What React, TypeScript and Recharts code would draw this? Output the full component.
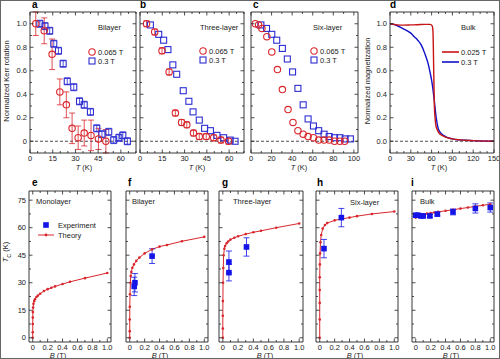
import React from 'react'
import { ComposedChart, Scatter, Line, XAxis, YAxis, ReferenceLine, ErrorBar } from 'recharts'

const FONT = '"Liberation Sans", Arial, Helvetica, sans-serif'
const RED = '#d8262c'
const BLUE = '#2d2dd2'
const EXP_BLUE = '#1414e6'
const INK = '#222'

// ---------- a: bilayer, normalized Kerr rotation vs T ----------
const biT065 = [3.8, 9.4, 14.6, 19.7, 24, 27.8, 31.8, 35.8, 40.3, 45.2, 50.1]
const biK065 = [1.0, 0.94, 0.74, 0.42, 0.31, 0.11, 0.03, 0.07, 0.05, 0.02, 0.0]
const biE065 = [0.1, 0.11, 0.13, 0.11, 0.11, 0.13, 0.1, 0.11, 0.13, 0.09, 0.1]
const biT03 = [6.5, 9.9, 13, 15.7, 18.8, 21.9, 24.6, 28.9, 32.7, 35.8, 39.9, 44.1, 47.5, 52, 55.3, 58.7, 61.3, 64.3]
const biK03 = [1.0, 0.98, 0.94, 0.83, 0.77, 0.66, 0.51, 0.46, 0.34, 0.31, 0.25, 0.11, 0.06, 0.08, 0.01, 0.03, 0.05, 0.0]

// ---------- b: three-layer ----------
const triT065 = [4.4, 9.9, 14.8, 19.6, 23.8, 28, 31.5, 36, 39.9, 44.6, 49.6, 54.5, 59.6]
const triK065 = [1.0, 0.93, 0.77, 0.59, 0.24, 0.16, 0.14, 0.07, 0.04, 0.04, 0.03, 0.01, 0.0]
const triT03 = [7, 12.6, 15.9, 18.8, 22.1, 24.7, 29.1, 32.9, 35.7, 39.9, 43.5, 47.4, 51.8, 56.3, 60.7, 64]
const triK03 = [0.99, 0.91, 0.86, 0.78, 0.65, 0.57, 0.43, 0.34, 0.25, 0.18, 0.11, 0.09, 0.05, 0.03, 0.01, 0.0]

// ---------- c: six-layer ----------
const sixT065 = [4.2, 7.4, 10.6, 15.4, 20.2, 25.7, 30.5, 36, 40.8, 45.6, 50.7, 55.5, 60.7, 65.8, 71, 76, 81.2, 86.4, 91]
const sixK065 = [1.0, 0.99, 0.96, 0.89, 0.76, 0.61, 0.44, 0.27, 0.16, 0.09, 0.06, 0.04, 0.03, 0.01, 0.01, 0.01, 0.0, 0.0, 0.0]
const sixT03 = [9.6, 15.1, 20.2, 25, 30.5, 35.3, 40.4, 45.6, 50.7, 55.5, 60.7, 65.8, 71, 76, 81.2, 86.4, 91.5, 96.6]
const sixK03 = [0.99, 0.96, 0.91, 0.86, 0.79, 0.7, 0.59, 0.45, 0.31, 0.19, 0.13, 0.09, 0.06, 0.04, 0.03, 0.03, 0.02, 0.02]

// ---------- d: bulk magnetization curves ----------
const bulkT025 = [0, 5, 10, 20, 30, 40, 50, 58, 61, 62, 62.5, 63, 63.5, 64, 65, 66, 68, 70, 75, 80, 90, 100, 120, 150]
const bulkM025 = [1.0, 0.995, 0.99, 0.988, 0.99, 0.992, 0.995, 0.995, 0.98, 0.93, 0.8, 0.62, 0.45, 0.3, 0.2, 0.14, 0.1, 0.075, 0.05, 0.035, 0.02, 0.012, 0.005, 0.0]
const bulkT03 = [0, 5, 10, 15, 20, 25, 30, 35, 40, 45, 50, 55, 58, 60, 62, 64, 66, 68, 70, 75, 80, 90, 100, 120, 150]
const bulkM03 = [1.0, 0.995, 0.985, 0.97, 0.955, 0.94, 0.92, 0.89, 0.86, 0.82, 0.75, 0.66, 0.58, 0.52, 0.44, 0.34, 0.23, 0.15, 0.1, 0.06, 0.04, 0.02, 0.012, 0.005, 0.0]

// ---------- e–i: Tc vs B, theory ----------
const monoB = [0, 0.0001, 0.0005, 0.001, 0.002, 0.005, 0.01, 0.02, 0.03, 0.05, 0.07, 0.1, 0.15, 0.2, 0.25, 0.3, 0.4, 0.5, 0.7, 1.0]
const monoTc = [0, 3, 7.5, 11, 14, 16.5, 18.5, 20, 21, 22.2, 23, 24, 25.5, 26.5, 27.3, 28, 29.3, 30.5, 32.5, 35.3]
const biB = [0, 0, 0, 0.001, 0.004, 0.009, 0.013, 0.022, 0.035, 0.057, 0.088, 0.13, 0.2, 0.3, 0.4, 0.5, 0.7, 1.0]
const biTc = [0, 3.6, 10, 16.9, 23.7, 30, 33.7, 35.9, 38.2, 40, 41.9, 43.7, 46, 48.2, 49.7, 50.6, 52.6, 55]
const triB = [0, 0, 0, 0.001, 0.003, 0.006, 0.01, 0.02, 0.03, 0.05, 0.07, 0.1, 0.15, 0.2, 0.3, 0.4, 0.5, 0.7, 1.0]
const triTc = [0, 5, 12, 20, 30, 38, 45, 48.5, 50, 51.5, 52.5, 53.5, 54.5, 55.3, 56.5, 57.5, 58.3, 60, 62.3]
const hexB = [0, 0, 0, 0, 0, 0.002, 0.005, 0.01, 0.02, 0.04, 0.07, 0.1, 0.2, 0.3, 0.4, 0.5, 0.7, 1.0]
const hexTc = [0, 10, 19, 26, 33, 40, 46, 52, 56, 59.5, 61.5, 62.5, 64, 64.8, 65.5, 66.3, 67.5, 68.8]
const bulkB = [0, 0.005, 0.01, 0.02, 0.03, 0.05, 0.07, 0.1, 0.15, 0.2, 0.25, 0.3, 0.4, 0.5, 0.6, 0.7, 0.8, 0.9, 1.0]
const bulkTc = [65.5, 66, 66.2, 66.4, 66.6, 66.8, 67, 67.3, 67.7, 68, 68.3, 68.6, 69.2, 69.8, 70.4, 71, 71.6, 72.2, 72.8]

// ---------- e–i: Tc vs B, experiment ----------
const biExpB = [0.06, 0.07]
const biExpTc = [28, 30]
const biExpErr = [5, 5]
const biExpB2 = [0.3]
const biExpTc2 = [44.5]
const biExpErr2 = [4]
const triExpB = [0.08, 0.08, 0.31]
const triExpTc = [41.3, 35.5, 49.5]
const triExpErr = [6, 4.5, 5]
const hexExpB = [0.057, 0.29]
const hexExpTc = [48.6, 65.5]
const hexExpErr = [5, 5]
const bulkExpB = [0, 0.03, 0.07, 0.1, 0.19, 0.29, 0.5, 0.8, 1.0]
const bulkExpTc = [66.8, 66.8, 66.4, 66.4, 66.4, 67.4, 68.6, 70.5, 71]
const bulkExpErr = [0.8, 0.8, 0.8, 0.8, 0.8, 1, 1.6, 2.5, 2.5]

// tick labels
const kerrXMajor = [0, 15, 30, 45, 60]
const sixXMajor = [0, 20, 40, 60, 80, 100]
const bulkXMajor = [0, 30, 60, 90, 120, 150]
const normYMajor = [0, 0.2, 0.4, 0.6, 0.8, 1.0]
const fieldXMajor = [0, 0.2, 0.4, 0.6, 0.8, 1.0]
const tcYMajor = [0, 15, 30, 45, 60, 75]

function steps(a: number, b: number, s: number) {
  const out: number[] = []
  for (let i = 0; a + i * s <= b + 1e-9; i++) out.push(+(a + i * s).toFixed(4))
  return out
}

const pts = (xs: number[], ys: number[], es?: number[]) =>
  xs.map((x, i) => ({ x, y: ys[i], err: es ? es[i] : 0 }))

const fmtDec = (v: number) => v.toFixed(1)
const fmtZero = (v: number) => (v === 0 ? '0' : v.toFixed(1))
const fmtInt = (v: number) => String(v)

type Side = 'bottom' | 'top' | 'left' | 'right'

function tickFor(side: Side, majors: number[], fmt: ((v: number) => string) | null) {
  return function Tick(props: any) {
    const { x, y, payload } = props
    const v = payload.value
    const major = majors.some((m) => Math.abs(m - v) < 1e-6)
    const len = major ? 3.5 : 2
    let line: React.ReactNode = null
    let label: React.ReactNode = null
    if (side === 'bottom') {
      line = <line x1={x} y1={y} x2={x} y2={y - len} stroke={INK} strokeWidth={0.8} />
      if (fmt && major)
        label = <text x={x} y={y + 8} textAnchor="middle" fontSize={7.5} fill={INK} fontFamily={FONT}>{fmt(v)}</text>
    } else if (side === 'top') {
      line = <line x1={x} y1={y} x2={x} y2={y + len} stroke={INK} strokeWidth={0.8} />
    } else if (side === 'left') {
      line = <line x1={x} y1={y} x2={x + len} y2={y} stroke={INK} strokeWidth={0.8} />
      if (fmt && major)
        label = <text x={x - 3} y={y + 2.6} textAnchor="end" fontSize={7.5} fill={INK} fontFamily={FONT}>{fmt(v)}</text>
    } else {
      line = <line x1={x} y1={y} x2={x - len} y2={y} stroke={INK} strokeWidth={0.8} />
    }
    return <g>{line}{label}</g>
  }
}

const OpenCircle = (p: any) => <circle cx={p.cx} cy={p.cy} r={3.2} fill="none" stroke={RED} strokeWidth={1.1} />
const OpenSquare = (p: any) => <rect x={p.cx - 3} y={p.cy - 3} width={6} height={6} fill="none" stroke={BLUE} strokeWidth={1.1} />
const FilledSquare = (p: any) => <rect x={p.cx - 2.8} y={p.cy - 2.8} width={5.6} height={5.6} fill={EXP_BLUE} />

// outer padding around each plot frame; every axis takes 1px of it
const PAD = { l: 24, r: 8, t: 6, b: 14 }

interface PanelProps {
  left: number
  top: number
  w: number
  h: number
  xDomain: [number, number]
  yDomain: [number, number]
  xTicks: number[]
  xMajor: number[]
  xFmt: ((v: number) => string) | null
  yTicks: number[]
  yMajor: number[]
  yFmt: ((v: number) => string) | null
  children: React.ReactNode
}

function Panel(p: PanelProps) {
  const axisLine = { stroke: INK, strokeWidth: 0.9 }
  return (
    <div style={{ position: 'absolute', left: p.left - PAD.l, top: p.top - PAD.t }}>
      <ComposedChart
        width={p.w + PAD.l + PAD.r}
        height={p.h + PAD.t + PAD.b}
        margin={{ top: PAD.t - 1, right: PAD.r - 1, bottom: PAD.b - 1, left: PAD.l - 1 }}
      >
        <XAxis xAxisId="b" orientation="bottom" type="number" dataKey="x" domain={p.xDomain} allowDataOverflow
          ticks={p.xTicks} interval={0} height={1} tickSize={0} tickMargin={0} tickLine={false}
          tick={tickFor('bottom', p.xMajor, p.xFmt)} axisLine={axisLine} />
        <XAxis xAxisId="t" orientation="top" type="number" dataKey="x" domain={p.xDomain} allowDataOverflow
          ticks={p.xTicks} interval={0} height={1} tickSize={0} tickMargin={0} tickLine={false}
          tick={tickFor('top', p.xMajor, null)} axisLine={axisLine} />
        <YAxis yAxisId="l" orientation="left" type="number" dataKey="y" domain={p.yDomain} allowDataOverflow
          ticks={p.yTicks} interval={0} width={1} tickSize={0} tickMargin={0} tickLine={false}
          tick={tickFor('left', p.yMajor, p.yFmt)} axisLine={axisLine} />
        <YAxis yAxisId="r" orientation="right" type="number" dataKey="y" domain={p.yDomain} allowDataOverflow
          ticks={p.yTicks} interval={0} width={1} tickSize={0} tickMargin={0} tickLine={false}
          tick={tickFor('right', p.yMajor, null)} axisLine={axisLine} />
        {p.children}
      </ComposedChart>
    </div>
  )
}

const T_TICKS_70 = steps(0, 70, 5)
const Y_TICKS_NORM = steps(0, 1.0, 0.1)
const B_TICKS = steps(0, 1.0, 0.1)
const TC_TICKS = steps(0, 75, 7.5)

function kerrSeries(t065: number[], k065: number[], e065: number[] | undefined, t03: number[], k03: number[], e03: number | undefined) {
  return [
    <ReferenceLine key="z" xAxisId="b" yAxisId="l" y={0} stroke={INK} strokeWidth={0.8} strokeDasharray="3 2" />,
    <Scatter key="s3" name="0.3 T" xAxisId="b" yAxisId="l" data={pts(t03, k03, e03 ? t03.map(() => e03) : undefined)} shape={OpenSquare} isAnimationActive={false}>
      {e03 ? <ErrorBar dataKey="err" direction="y" width={3} stroke={BLUE} strokeWidth={0.8} /> : null}
    </Scatter>,
    <Scatter key="s065" name="0.065 T" xAxisId="b" yAxisId="l" data={pts(t065, k065, e065)} shape={OpenCircle} isAnimationActive={false}>
      {e065 ? <ErrorBar dataKey="err" direction="y" width={3} stroke={RED} strokeWidth={0.8} /> : null}
    </Scatter>,
  ]
}

function tcSeries(thB: number[], thTc: number[], exps: { b: number[]; tc: number[]; err: number[] }[]) {
  return [
    <Line key="th" name="Theory" xAxisId="b" yAxisId="l" data={pts(thB, thTc)} dataKey="y" type="linear"
      stroke={RED} strokeWidth={1} dot={{ r: 1.3, fill: RED, stroke: 'none' }} isAnimationActive={false} />,
    ...exps.map((e, i) => (
      <Scatter key={'ex' + i} name="Experiment" xAxisId="b" yAxisId="l" data={pts(e.b, e.tc, e.err)} shape={FilledSquare} isAnimationActive={false}>
        <ErrorBar dataKey="err" direction="y" width={3} stroke={EXP_BLUE} strokeWidth={0.8} />
      </Scatter>
    )),
  ]
}

const txt = (s: React.CSSProperties): React.CSSProperties => ({
  position: 'absolute', fontFamily: FONT, fontSize: 7.5, color: INK, lineHeight: 1, whiteSpace: 'nowrap', ...s,
})

function Letter({ ch, x, y }: { ch: string; x: number; y: number }) {
  return <div style={txt({ left: x, top: y, fontSize: 10, fontWeight: 'bold', color: '#000' })}>{ch}</div>
}

function CircleKey({ x, y }: { x: number; y: number }) {
  return (
    <svg style={{ position: 'absolute', left: x - 5, top: y - 5 }} width={10} height={10}>
      <circle cx={5} cy={5} r={3.2} fill="none" stroke={RED} strokeWidth={1.1} />
    </svg>
  )
}
function SquareKey({ x, y, filled }: { x: number; y: number; filled?: boolean }) {
  return (
    <svg style={{ position: 'absolute', left: x - 5, top: y - 5 }} width={10} height={10}>
      {filled
        ? <rect x={2.2} y={2.2} width={5.6} height={5.6} fill={EXP_BLUE} />
        : <rect x={2} y={2} width={6} height={6} fill="none" stroke={BLUE} strokeWidth={1.1} />}
    </svg>
  )
}
function LineKey({ x1, x2, y, color, dot }: { x1: number; x2: number; y: number; color: string; dot?: boolean }) {
  return (
    <svg style={{ position: 'absolute', left: x1, top: y - 3 }} width={x2 - x1} height={6}>
      <line x1={0} y1={3} x2={x2 - x1} y2={3} stroke={color} strokeWidth={dot ? 1 : 1.6} />
      {dot ? <circle cx={(x2 - x1) / 2} cy={3} r={1.4} fill={color} /> : null}
    </svg>
  )
}

function KerrLegend({ x, y }: { x: number; y: number }) {
  return (
    <>
      <CircleKey x={x} y={y} />
      <div style={txt({ left: x + 6, top: y - 3.5 })}>0.065 T</div>
      <SquareKey x={x} y={y + 9} />
      <div style={txt({ left: x + 6, top: y + 5.5 })}>0.3 T</div>
    </>
  )
}

function VLabel({ x, y, children }: { x: number; y: number; children: React.ReactNode }) {
  return (
    <div style={txt({ left: x, top: y, transform: 'translate(-50%, -50%) rotate(-90deg)' })}>{children}</div>
  )
}

export default function App() {
  const bDomain: [number, number] = [-0.05, 1.05]
  const tcDomain: [number, number] = [-2.3, 80]
  const normDomain: [number, number] = [-0.1, 1.1]
  const bottom = { top: 190, h: 151, xDomain: bDomain, yDomain: tcDomain, xTicks: B_TICKS, xMajor: fieldXMajor, xFmt: fmtZero, yTicks: TC_TICKS, yMajor: tcYMajor }
  const topRow = { top: 11, h: 141, yDomain: normDomain, yTicks: Y_TICKS_NORM, yMajor: normYMajor }

  return (
    <div style={{ position: 'absolute', left: 0, top: 0, width: 500, height: 359, background: '#fff', overflow: 'hidden', boxSizing: 'border-box', border: '1px solid #666' }}>
      {/* top row */}
      <Panel {...topRow} left={29} w={106} xDomain={[0, 70]} xTicks={T_TICKS_70} xMajor={kerrXMajor} xFmt={fmtInt} yFmt={fmtZero}>
        {kerrSeries(biT065, biK065, biE065, biT03, biK03, 0.03)}
      </Panel>
      <Panel {...topRow} left={139} w={104} xDomain={[0, 70]} xTicks={T_TICKS_70} xMajor={kerrXMajor} xFmt={fmtInt} yFmt={null}>
        {kerrSeries(triT065, triK065, triT065.map(() => 0.025), triT03, triK03, undefined)}
      </Panel>
      <Panel {...topRow} left={250} w={107} xDomain={[0, 104]} xTicks={steps(0, 100, 10)} xMajor={sixXMajor} xFmt={fmtInt} yFmt={null}>
        {kerrSeries(sixT065, sixK065, undefined, sixT03, sixK03, undefined)}
      </Panel>
      <Panel {...topRow} left={389} w={104} xDomain={[0, 150]} xTicks={steps(0, 150, 10)} xMajor={bulkXMajor} xFmt={fmtInt} yFmt={fmtDec}>
        <ReferenceLine xAxisId="b" yAxisId="l" y={0} stroke={INK} strokeWidth={0.8} strokeDasharray="3 2" />
        <Line name="0.3 T" xAxisId="b" yAxisId="l" data={pts(bulkT03, bulkM03)} dataKey="y" type="monotone" stroke="#1010c8" strokeWidth={1.4} dot={false} isAnimationActive={false} />
        <Line name="0.025 T" xAxisId="b" yAxisId="l" data={pts(bulkT025, bulkM025)} dataKey="y" type="monotone" stroke="#c81414" strokeWidth={1.4} dot={false} isAnimationActive={false} />
      </Panel>

      {/* bottom row */}
      <Panel {...bottom} left={28} w={82} yFmt={fmtInt}>
        {tcSeries(monoB, monoTc, [])}
      </Panel>
      <Panel {...bottom} left={125} w={82} yFmt={null}>
        {tcSeries(biB, biTc, [{ b: biExpB, tc: biExpTc, err: biExpErr }, { b: biExpB2, tc: biExpTc2, err: biExpErr2 }])}
      </Panel>
      <Panel {...bottom} left={218} w={84} yFmt={null}>
        {tcSeries(triB, triTc, [{ b: triExpB, tc: triExpTc, err: triExpErr }])}
      </Panel>
      <Panel {...bottom} left={315} w={82} yFmt={null}>
        {tcSeries(hexB, hexTc, [{ b: hexExpB, tc: hexExpTc, err: hexExpErr }])}
      </Panel>
      <Panel {...bottom} left={411} w={82} yFmt={null}>
        {tcSeries(bulkB, bulkTc, [{ b: bulkExpB, tc: bulkExpTc, err: bulkExpErr }])}
      </Panel>

      {/* panel letters */}
      <Letter ch="a" x={31} y={-1} />
      <Letter ch="b" x={139} y={-1} />
      <Letter ch="c" x={252} y={-1} />
      <Letter ch="d" x={389} y={-1} />
      <Letter ch="e" x={31} y={177} />
      <Letter ch="f" x={127} y={177} />
      <Letter ch="g" x={221} y={177} />
      <Letter ch="h" x={316} y={177} />
      <Letter ch="i" x={410} y={177} />

      {/* panel titles */}
      <div style={txt({ left: 97, top: 23 })}>Bilayer</div>
      <div style={txt({ left: 199, top: 23 })}>Three-layer</div>
      <div style={txt({ left: 312, top: 23 })}>Six-layer</div>
      <div style={txt({ left: 460, top: 23 })}>Bulk</div>
      <div style={txt({ left: 35, top: 197 })}>Monolayer</div>
      <div style={txt({ left: 131, top: 197 })}>Bilayer</div>
      <div style={txt({ left: 232, top: 197 })}>Three-layer</div>
      <div style={txt({ left: 349, top: 198 })}>Six-layer</div>
      <div style={txt({ left: 419, top: 197 })}>Bulk</div>

      {/* legends */}
      <KerrLegend x={91} y={51} />
      <KerrLegend x={202} y={50} />
      <KerrLegend x={313} y={50} />
      <LineKey x1={441} x2={458} y={51} color="#c81414" />
      <div style={txt({ left: 460, top: 47.5 })}>0.025 T</div>
      <LineKey x1={441} x2={458} y={61} color="#1010c8" />
      <div style={txt({ left: 460, top: 57.5 })}>0.3 T</div>
      <SquareKey x={45} y={224} filled />
      <div style={txt({ left: 57, top: 220.5 })}>Experiment</div>
      <LineKey x1={37} x2={53} y={234} color={RED} dot />
      <div style={txt({ left: 57, top: 230.5 })}>Theory</div>

      {/* axis titles */}
      <VLabel x={6} y={80}>Normalized Kerr rotation</VLabel>
      <VLabel x={367} y={80}>Normalized magnetization</VLabel>
      <VLabel x={6} y={251}><i>T</i><sub style={{ fontSize: 5.5 }}>C</sub> (K)</VLabel>
      {[83, 196, 298, 438].map((cx) => (
        <div key={cx} style={txt({ left: cx, top: 163, transform: 'translateX(-50%)' })}><i>T</i> (K)</div>
      ))}
      {[57, 159, 264, 354, 450].map((cx) => (
        <div key={cx} style={txt({ left: cx, top: 351, transform: 'translateX(-50%)' })}><i>B</i> (T)</div>
      ))}
    </div>
  )
}
